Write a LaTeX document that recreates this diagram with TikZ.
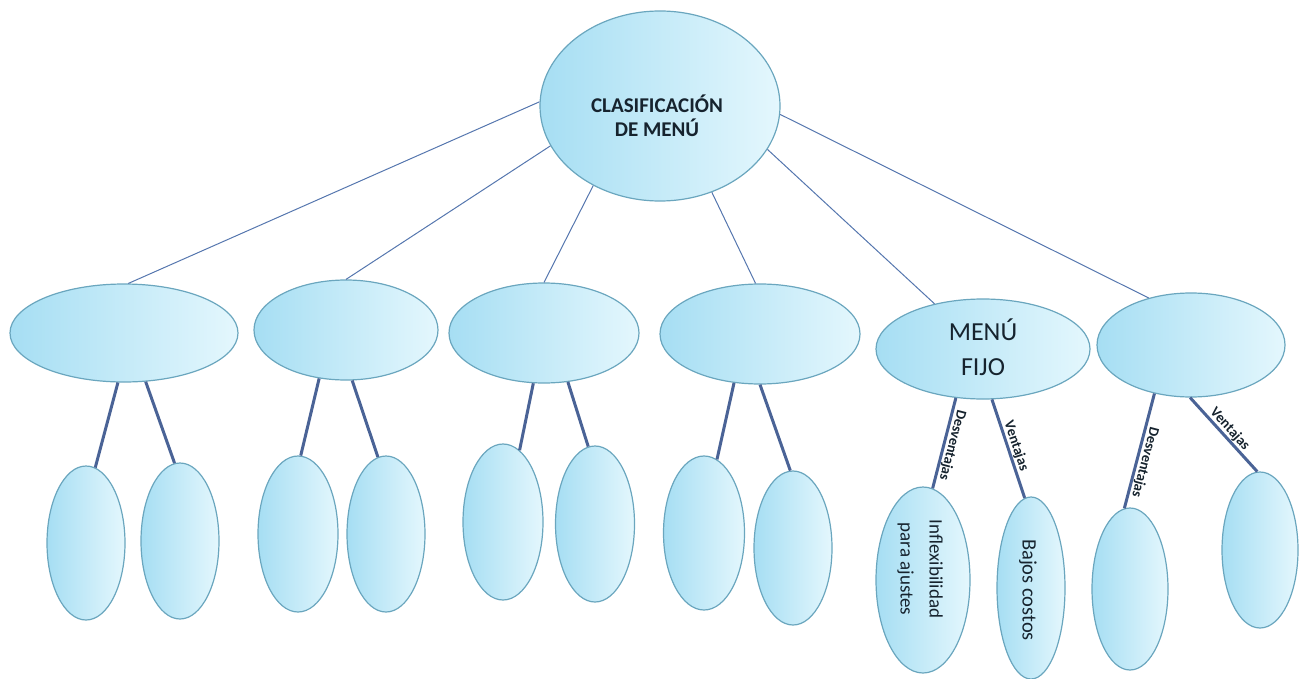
\documentclass[tikz,border=0pt]{standalone}
\usepackage{fontspec}
\setmainfont{Carlito}
\usetikzlibrary{shapes.geometric}
\definecolor{fillL}{HTML}{A6DEF3}
\definecolor{fillR}{HTML}{E4F7FD}
\definecolor{edgec}{HTML}{6AA6BE}
\definecolor{thinline}{HTML}{5576AE}
\definecolor{thickline}{HTML}{4A6396}
\definecolor{txt}{HTML}{16232E}
\tikzset{
  bubble/.style={ellipse, draw=edgec, line width=1.2pt, left color=fillL, right color=fillR, inner sep=0pt},
  thinlink/.style={draw=thinline, line width=1pt},
  thicklink/.style={draw=thickline, line width=3pt},
  lab/.style={font=\bfseries\fontsize{14.5}{15}\selectfont, text=txt, sloped, allow upside down, above, inner sep=0.5pt},
}
\begin{document}
\begin{tikzpicture}[x=1pt, y=-1pt]
\useasboundingbox (0,0) rectangle (1308,679);
% root
\node[bubble, minimum width=240, minimum height=190] (root) at (660,106) {};
\node[font=\bfseries\fontsize{21}{24}\selectfont, text=txt, align=center] (roottext) at (657,116) {CLASIFICACIÓN\\DE MENÚ};
% second row
\node[bubble, minimum width=228, minimum height=98] (c1) at (124,333) {};
\node[bubble, minimum width=184, minimum height=100] (c2) at (346,330) {};
\node[bubble, minimum width=190, minimum height=100] (c3) at (544,333) {};
\node[bubble, minimum width=200, minimum height=100] (c4) at (760,334) {};
\node[bubble, minimum width=214, minimum height=100] (c5) at (983,349) {};
\node[font=\fontsize{26}{35}\selectfont, text=txt, align=center] (c5text) at (983,347) {MENÚ\\FIJO};
\node[bubble, minimum width=188, minimum height=104] (c6) at (1191,345) {};
% third row
\node[bubble, minimum width=78, minimum height=154] (g1a) at (86,543) {};
\node[bubble, minimum width=78, minimum height=156] (g1b) at (180,541) {};
\node[bubble, minimum width=80, minimum height=156] (g2a) at (298,534) {};
\node[bubble, minimum width=78, minimum height=156] (g2b) at (386,534) {};
\node[bubble, minimum width=80, minimum height=156] (g3a) at (503,522) {};
\node[bubble, minimum width=79, minimum height=156] (g3b) at (595,524) {};
\node[bubble, minimum width=81, minimum height=154] (g4a) at (704,533) {};
\node[bubble, minimum width=78, minimum height=154] (g4b) at (793,548) {};
\node[bubble, minimum width=94, minimum height=186] (g5a) at (923,580) {};
\node[font=\fontsize{19}{29}\selectfont, text=txt, align=center, rotate=-90] (g5atext) at (920,569) {Inflexibilidad\\para ajustes};
\node[bubble, minimum width=68, minimum height=182] (g5b) at (1031,588) {};
\node[font=\fontsize{20.5}{24}\selectfont, text=txt, rotate=-90] (g5btext) at (1028,590) {Bajos costos};
\node[bubble, minimum width=76, minimum height=162] (g6a) at (1130,589) {};
\node[bubble, minimum width=76, minimum height=156] (g6b) at (1260,550) {};
% root links
\draw[thinlink] (root.178) -- (c1.85);
\draw[thinlink] (root.200) -- (c2.north);
\draw[thinlink] (root.230) -- (c3.north);
\draw[thinlink] (root.301) -- (c4.95);
\draw[thinlink] (root.338) -- (c5.137);
\draw[thinlink] (root.356) -- (c6.132);
% child links
\draw[thicklink] (c1.263) -- (g1a.83);
\draw[thicklink] (c1.294) -- (g1b.94);
\draw[thicklink] (c2.241) -- (g2a.88);
\draw[thicklink] (c2.277) -- (g2b.96);
\draw[thicklink] (c3.258) -- (g3a.77);
\draw[thicklink] (c3.296) -- (g3b.95);
\draw[thicklink] (c4.242) -- (g4a.80);
\draw[thicklink] (c4.270) -- (g4b.92);
\draw[thicklink] (c5.241) -- node[lab, pos=0.5] {Desventajas} (g5a.84);
\draw[thicklink] (c5.280) -- node[lab, pos=0.5] {Ventajas} (g5b.94);
\draw[thicklink] (c6.233) -- node[lab, pos=0.58] {Desventajas} (g6a.94);
\draw[thicklink] (c6.269) -- node[lab, pos=0.5] {Ventajas} (g6b.92);
\end{tikzpicture}
\end{document}
